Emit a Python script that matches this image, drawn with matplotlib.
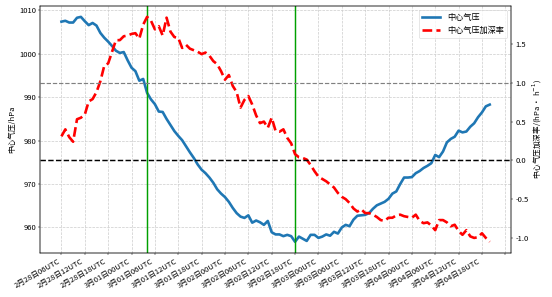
import numpy as np
import matplotlib.pyplot as plt

plt.rcParams['font.family'] = ['Noto Sans CJK SC', 'DejaVu Sans']
plt.rcParams['axes.unicode_minus'] = False
plt.rcParams['font.size'] = 13

# --- hourly data starting 2月28日06UTC ---
pressure = [
    1007.4, 1007.6, 1007.2, 1007.2, 1008.3, 1008.5, 1007.5, 1006.6, 1007.1, 1006.5,
    1004.8, 1003.7, 1002.8, 1001.8, 1000.7, 1000.2, 1000.4, 998.5, 996.8, 996.0,
    993.8, 994.2, 991.0, 989.5, 988.4, 986.7, 986.6, 985.0, 983.6, 982.2,
    981.1, 980.1, 978.7, 977.3, 976.0, 974.5, 973.3, 972.5, 971.5, 970.3,
    968.8, 967.8, 967.0, 965.9, 964.5, 963.3, 962.5, 962.2, 962.8, 961.1,
    961.6, 961.2, 960.6, 961.5, 958.9, 958.4, 958.4, 958.0, 958.3, 958.0,
    956.7, 957.9, 957.4, 956.9, 958.3, 958.3, 957.6, 957.9, 958.4, 958.1,
    959.0, 958.6, 960.0, 960.6, 960.3, 961.8, 962.7, 962.8, 962.9, 963.3,
    964.3, 965.1, 965.5, 965.9, 966.6, 967.8, 968.3, 970.0, 971.5, 971.5,
    971.6, 972.5, 973.0, 973.7, 974.2, 974.8, 976.7, 976.2, 977.5, 979.6,
    980.4, 980.9, 982.3, 981.9, 982.1, 983.2, 984.0, 985.4, 986.5, 987.9,
    988.3,
]

deepening = [
    0.31, 0.40, 0.30, 0.24, 0.53, 0.55, 0.59, 0.76, 0.79, 0.88,
    1.02, 1.22, 1.25, 1.40, 1.55, 1.55, 1.60, 1.61, 1.63, 1.64,
    1.57, 1.75, 1.85, 1.80, 1.69, 1.73, 1.61, 1.84, 1.66, 1.59,
    1.58, 1.45, 1.49, 1.44, 1.42, 1.40, 1.37, 1.39, 1.35, 1.28,
    1.24, 1.15, 1.04, 1.10, 0.96, 0.88, 0.68, 0.78, 0.83, 0.72,
    0.58, 0.48, 0.50, 0.42, 0.55, 0.38, 0.37, 0.40, 0.29, 0.22,
    0.08, 0.04, 0.03, 0.01, -0.06, -0.14, -0.21, -0.24, -0.27, -0.31,
    -0.35, -0.42, -0.47, -0.50, -0.55, -0.62, -0.66, -0.63, -0.68, -0.68,
    -0.70, -0.73, -0.77, -0.78, -0.74, -0.74, -0.71, -0.70, -0.72, -0.73,
    -0.74, -0.70, -0.78, -0.81, -0.80, -0.84, -0.90, -0.77, -0.77, -0.80,
    -0.85, -0.83, -0.91, -0.96, -0.90, -0.98, -1.00, -0.99, -0.94, -1.00,
    -1.05,
]

tick_labels = [
    '2月28日06UTC', '2月28日12UTC', '2月28日18UTC',
    '3月01日00UTC', '3月01日06UTC', '3月01日12UTC', '3月01日18UTC',
    '3月02日00UTC', '3月02日06UTC', '3月02日12UTC', '3月02日18UTC',
    '3月03日00UTC', '3月03日06UTC', '3月03日12UTC', '3月03日18UTC',
    '3月04日00UTC', '3月04日06UTC', '3月04日12UTC', '3月04日18UTC',
]

max_rate_idx = 22   # 最大加深率时刻
min_p_idx = 60      # 最低气压时刻

hours = np.arange(len(pressure))

dpi = 42
fig, ax = plt.subplots(figsize=(552 / dpi, 297 / dpi), dpi=dpi)
fig.subplots_adjust(left=0.0725, right=0.926, top=0.981, bottom=0.148)

l1, = ax.plot(hours, pressure, color='#1f77b4', lw=4.5, label='中心气压')
ax.set_ylabel('中心气压/hPa')
ax.grid(True, linestyle='--', color='#cccccc', lw=1.2)

ax2 = ax.twinx()
l2, = ax2.plot(hours, deepening, color='red', lw=4.5, linestyle='--', label='中心气压加深率')
ax2.axhline(1.0, color='gray', linestyle='--', lw=2)
ax2.axhline(0.0, color='black', linestyle='--', lw=2.5)
ax2.set_ylabel('中心气压加深率/(hPa · h$^{-1}$)')

ax.axvline(max_rate_idx, color='#00a000', lw=2.5)
ax.axvline(min_p_idx, color='#00a000', lw=2.5)

ticks = np.arange(0, len(pressure) + 5, 6)
ax.set_xticks(ticks)
ax.set_xticklabels(tick_labels + [''] * (len(ticks) - len(tick_labels)),
                   rotation=30, ha='right')

ax.legend(handles=[l1, l2], loc='upper right', fontsize=14, handlelength=2.2)

fig.savefig('out.png', dpi=dpi)
